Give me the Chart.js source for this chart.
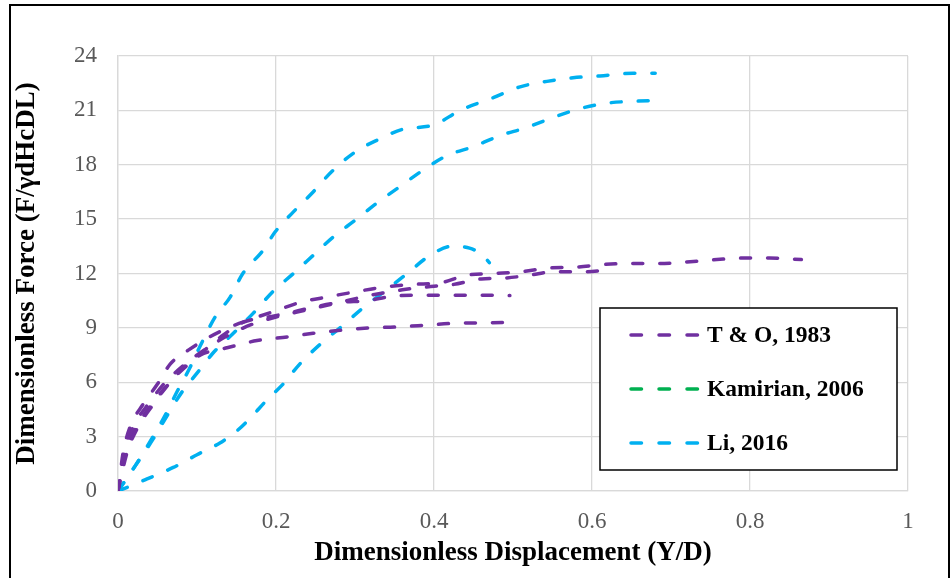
<!DOCTYPE html>
<html>
<head>
<meta charset="utf-8">
<script src="https://cdn.jsdelivr.net/npm/chart.js@4"></script>
<style>
  html, body { margin: 0; padding: 0; background: #fff; }
  #wrap { position: relative; width: 952px; height: 578px; }
</style>
</head>
<body>
<div id="wrap"><canvas id="forceChart" width="952" height="578"></canvas></div>
<script>
// T & O, 1983 (four curves)
const to1X = [0, 0.003, 0.006, 0.015, 0.032, 0.05, 0.066, 0.09, 0.116, 0.142, 0.17, 0.2, 0.23, 0.264, 0.302, 0.336, 0.373, 0.41, 0.44, 0.475, 0.51, 0.545, 0.58, 0.616, 0.652, 0.686, 0.72, 0.758, 0.791, 0.825, 0.865];
const to1Y = [0, 1.0, 2.0, 3.5, 4.8, 5.9, 7.0, 7.8, 8.5, 9.05, 9.5, 9.95, 10.4, 10.7, 11.0, 11.25, 11.4, 11.5, 11.9, 12.0, 12.1, 12.3, 12.35, 12.5, 12.55, 12.55, 12.64, 12.77, 12.85, 12.85, 12.77];
const to2X = [0, 0.004, 0.01, 0.02, 0.04, 0.06, 0.085, 0.11, 0.14, 0.17, 0.2, 0.24, 0.28, 0.32, 0.36, 0.4, 0.425, 0.46, 0.49, 0.52, 0.553, 0.59, 0.623];
const to2Y = [0, 1.2, 2.5, 3.6, 4.9, 6.0, 7.0, 7.8, 8.6, 9.2, 9.6, 10.0, 10.4, 10.8, 11.1, 11.3, 11.4, 11.7, 11.75, 11.9, 12.1, 12.1, 12.2];
const to3X = [0, 0.005, 0.012, 0.025, 0.045, 0.07, 0.1, 0.13, 0.158, 0.19, 0.214, 0.243, 0.281, 0.315, 0.348, 0.382, 0.42, 0.46, 0.496];
const to3Y = [0, 1.0, 2.2, 3.5, 4.8, 6.2, 7.4, 8.5, 9.3, 9.6, 9.8, 10.1, 10.4, 10.5, 10.75, 10.8, 10.8, 10.8, 10.78];
const to4X = [0, 0.006, 0.015, 0.03, 0.05, 0.07, 0.085, 0.104, 0.138, 0.176, 0.214, 0.247, 0.281, 0.319, 0.353, 0.39, 0.425, 0.458, 0.49, 0.5];
const to4Y = [0, 1.5, 2.8, 4.0, 5.2, 6.2, 6.9, 7.5, 7.9, 8.3, 8.5, 8.7, 8.87, 9.0, 9.05, 9.15, 9.25, 9.27, 9.3, 9.2];

// Kamirian, 2006 (no visible curve in the plot)
const kamX = [];
const kamY = [];

// Li, 2016 (three curves)
const li1X = [0, 0.022, 0.043, 0.06, 0.075, 0.091, 0.104, 0.123, 0.142, 0.158, 0.184, 0.199, 0.222, 0.247, 0.27, 0.3, 0.33, 0.36, 0.4, 0.433, 0.475, 0.509, 0.543, 0.576, 0.61, 0.652, 0.68];
const li1Y = [0, 1.4, 2.9, 4.2, 5.5, 6.8, 8.0, 9.6, 10.7, 12.0, 13.3, 14.3, 15.4, 16.5, 17.6, 18.7, 19.4, 19.95, 20.2, 21.0, 21.7, 22.3, 22.6, 22.8, 22.9, 23.05, 23.05];
const li2X = [0, 0.022, 0.045, 0.06, 0.08, 0.1, 0.12, 0.146, 0.171, 0.196, 0.222, 0.247, 0.272, 0.302, 0.328, 0.357, 0.386, 0.416, 0.45, 0.483, 0.517, 0.55, 0.585, 0.619, 0.652, 0.69];
const li2Y = [0, 1.4, 2.9, 4.0, 5.4, 6.5, 7.6, 8.7, 9.8, 11.0, 12.0, 13.0, 14.0, 15.0, 15.9, 16.8, 17.7, 18.5, 19.0, 19.6, 20.05, 20.6, 21.1, 21.4, 21.5, 21.55];
const li3X = [0, 0.006, 0.036, 0.07, 0.1, 0.129, 0.15, 0.167, 0.188, 0.209, 0.23, 0.256, 0.281, 0.31, 0.34, 0.366, 0.395, 0.423, 0.445, 0.462, 0.47];
const li3Y = [0, 0.1, 0.65, 1.3, 2.0, 2.65, 3.3, 4.0, 5.0, 5.9, 7.0, 8.1, 9.0, 10.1, 11.1, 12.0, 13.0, 13.5, 13.4, 13.0, 12.6];

const xTicks = [0, 0.2, 0.4, 0.6, 0.8, 1];
const yTicks = [0, 3, 6, 9, 12, 15, 18, 21, 24];

const purple = '#7030A0';
const green = '#00B050';
const cyan = '#00B0F0';

function pts(xs, ys) {
  return xs.map((x, i) => ({ x: x, y: ys[i] }));
}

function curve(label, xs, ys, color) {
  return {
    label: label,
    data: pts(xs, ys),
    borderColor: color,
    backgroundColor: color,
    borderWidth: 3.5,
    borderDash: [10, 17],
    borderCapStyle: 'round',
    showLine: true,
    pointRadius: 0,
    pointHoverRadius: 0,
    cubicInterpolationMode: 'monotone',
    fill: false
  };
}

// outer frame
const framePlugin = {
  id: 'frame',
  beforeDraw(chart) {
    const ctx = chart.ctx;
    ctx.save();
    ctx.fillStyle = '#fff';
    ctx.fillRect(0, 0, chart.width, chart.height);
    ctx.strokeStyle = '#000';
    ctx.lineWidth = 2;
    ctx.strokeRect(10, 5, 939, 640);
    ctx.restore();
  }
};

// boxed legend inside the plot, one entry per series label
const boxLegend = {
  id: 'boxLegend',
  afterDraw(chart) {
    const ctx = chart.ctx;
    const seen = [];
    chart.data.datasets.forEach(ds => {
      if (!seen.find(s => s.label === ds.label)) seen.push({ label: ds.label, color: ds.borderColor });
    });
    const bx = 600, by = 308, bw = 297, bh = 162;
    ctx.save();
    ctx.fillStyle = '#fff';
    ctx.fillRect(bx, by, bw, bh);
    ctx.strokeStyle = '#000';
    ctx.lineWidth = 1.5;
    ctx.strokeRect(bx, by, bw, bh);
    ctx.font = 'bold 23.5px "Liberation Serif"';
    ctx.textBaseline = 'middle';
    ctx.fillStyle = '#000';
    seen.forEach((item, i) => {
      const y = 335 + i * 54;
      ctx.beginPath();
      ctx.strokeStyle = item.color;
      ctx.lineWidth = 3.5;
      ctx.lineCap = 'round';
      ctx.setLineDash([10.5, 17.5]);
      ctx.moveTo(631, y);
      ctx.lineTo(699, y);
      ctx.stroke();
      ctx.setLineDash([]);
      ctx.fillText(item.label, 707, y + 1);
    });
    ctx.restore();
  }
};

new Chart(document.getElementById('forceChart').getContext('2d'), {
  type: 'scatter',
  data: {
    datasets: [
      curve('T & O, 1983', to1X, to1Y, purple),
      curve('T & O, 1983', to2X, to2Y, purple),
      curve('T & O, 1983', to3X, to3Y, purple),
      curve('T & O, 1983', to4X, to4Y, purple),
      curve('Kamirian, 2006', kamX, kamY, green),
      curve('Li, 2016', li1X, li1Y, cyan),
      curve('Li, 2016', li2X, li2Y, cyan),
      curve('Li, 2016', li3X, li3Y, cyan)
    ]
  },
  options: {
    responsive: false,
    animation: false,
    devicePixelRatio: 1,
    layout: { padding: { top: 56, right: 44, left: 0, bottom: 0 } },
    plugins: {
      legend: { display: false },
      tooltip: { enabled: false }
    },
    scales: {
      x: {
        type: 'linear',
        min: 0,
        max: 1,
        afterBuildTicks: s => { s.ticks = xTicks.map(v => ({ value: v })); },
        afterFit: s => { s.height = 87; },
        grid: { color: '#d9d9d9', lineWidth: 1.3, drawTicks: false },
        border: { color: '#d9d9d9', width: 1.3 },
        ticks: {
          color: '#595959',
          padding: 17,
          font: { family: 'Liberation Serif', size: 23 },
          callback: v => String(v)
        },
        title: {
          display: true,
          text: 'Dimensionless Displacement (Y/D)',
          color: '#000',
          font: { family: 'Liberation Serif', size: 27, weight: 'bold' },
          padding: { top: 0, bottom: 9 }
        }
      },
      y: {
        type: 'linear',
        min: 0,
        max: 24,
        afterBuildTicks: s => { s.ticks = yTicks.map(v => ({ value: v })); },
        afterFit: s => { s.width = 118; },
        grid: { color: '#d9d9d9', lineWidth: 1.3, drawTicks: false },
        border: { color: '#d9d9d9', width: 1.3 },
        ticks: {
          color: '#595959',
          padding: 21,
          font: { family: 'Liberation Serif', size: 23 },
          callback: v => String(v)
        },
        title: {
          display: true,
          text: 'Dimensionless Force (F/γdHcDL)',
          color: '#000',
          font: { family: 'Liberation Serif', size: 27, weight: 'bold' },
          padding: { top: 11, bottom: 0 }
        }
      }
    }
  },
  plugins: [framePlugin, boxLegend]
});
</script>
</body>
</html>
